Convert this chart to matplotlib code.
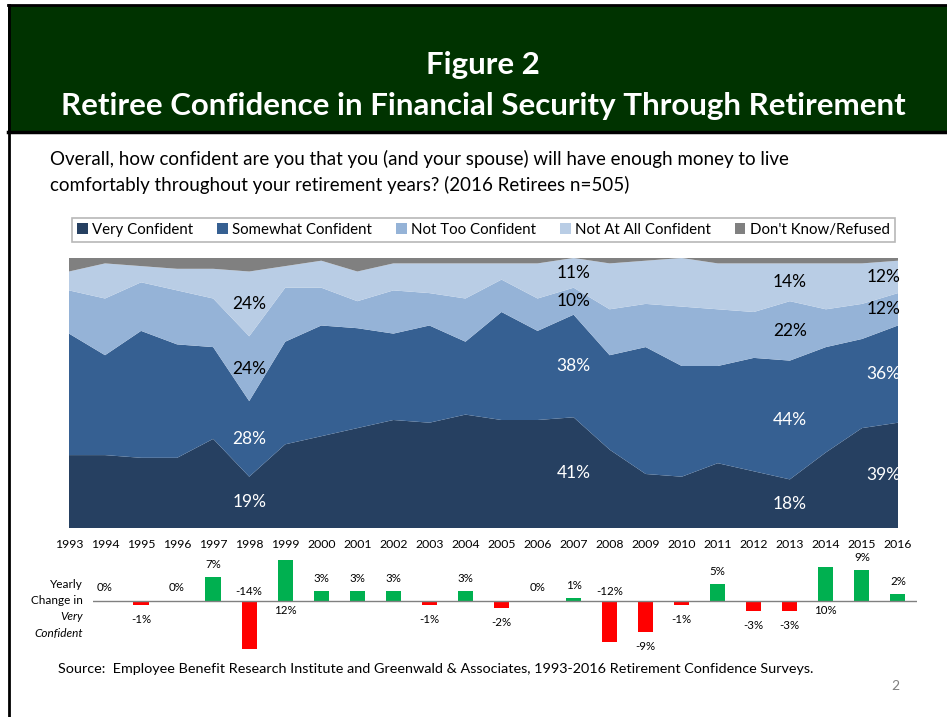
import matplotlib
matplotlib.use("Agg")
import matplotlib.pyplot as plt
from matplotlib.patches import Rectangle
import numpy as np

plt.rcParams["font.family"] = ["Lato", "DejaVu Sans"]

W, H = 947, 717

# ---- data ----
years = list(range(1993, 2017))
series_names = ["Very Confident", "Somewhat Confident", "Not Too Confident",
                "Not At All Confident", "Don't Know/Refused"]
very = [27, 27, 26, 26, 33, 19, 31, 34, 37, 40, 39, 42, 40, 40, 41, 29, 20, 19, 24, 21, 18, 28, 37, 39]
somewhat = [45, 37, 47, 42, 34, 28, 38, 41, 37, 32, 36, 27, 40, 33, 38, 35, 47, 41, 36, 42, 44, 39, 33, 36]
not_too = [16, 21, 18, 20, 18, 24, 20, 14, 10, 16, 12, 16, 12, 12, 10, 17, 16, 22, 21, 17, 22, 14, 13, 12]
not_at_all = [7, 13, 6, 8, 11, 24, 8, 10, 11, 10, 11, 13, 6, 13, 11, 17, 16, 18, 17, 18, 14, 17, 15, 12]
dont_know = [5, 2, 3, 4, 4, 5, 3, 1, 5, 2, 2, 2, 2, 2, 0, 2, 1, 0, 2, 2, 2, 2, 2, 1]

change_years = list(range(1994, 2017))
change = [0, -1, 0, 7, -14, 12, 3, 3, 3, -1, 3, -2, 0, 1, -12, -9, -1, 5, -3, -3, 10, 9, 2]

labelled_years = [1998, 2007, 2013, 2016]

colors = ["#264061", "#366092", "#95B3D7", "#B9CDE5", "#808080"]
label_colors = ["white", "white", "black", "black"]


def fx(px):
    return px / W


def fy(py):
    return 1 - py / H


fig = plt.figure(figsize=(W / 100, H / 100), dpi=100)

# header band and page frame
fig.patches.append(Rectangle((fx(8), fy(132)), fx(W - 8), (132 - 5) / H,
                             transform=fig.transFigure, facecolor="#003300",
                             edgecolor="none", zorder=0))
fig.add_artist(plt.Line2D([fx(8), 1], [fy(5), fy(5)], color="black", lw=2))
fig.add_artist(plt.Line2D([fx(8), 1], [fy(132), fy(132)], color="black", lw=2.5))
fig.add_artist(plt.Line2D([fx(9), fx(9)], [fy(5), 0], color="black", lw=2))

fig.text(fx(483), fy(65), "Figure 2", color="white", fontsize=22.5,
         fontweight="bold", ha="center", va="center")
fig.text(fx(483), fy(106), "Retiree Confidence in Financial Security Through Retirement",
         color="white", fontsize=22.5, fontweight="bold", ha="center", va="center")

fig.text(fx(50), fy(159), "Overall, how confident are you that you (and your spouse) will have enough money to live",
         fontsize=13.5, ha="left", va="center", color="black")
fig.text(fx(50), fy(185), "comfortably throughout your retirement years? (2016 Retirees n=505)",
         fontsize=13.5, ha="left", va="center", color="black")

# ---- stacked area chart ----
ax = fig.add_axes([fx(69), fy(528), (898 - 69) / W, (528 - 258) / H])
stack = [very, somewhat, not_too, not_at_all, dont_know]
polys = ax.stackplot(years, *stack, colors=colors, labels=series_names, linewidth=0)
ax.set_xlim(1993, 2016)
ax.set_ylim(0, 100)
ax.set_yticks([])
ax.set_xticks(years)
ax.set_xticklabels([str(y) for y in years], fontsize=8.8)
ax.tick_params(axis="x", length=0, pad=8)
for s in ax.spines.values():
    s.set_visible(False)

cum = np.cumsum(np.array(stack[:4]), axis=0)
for yr in labelled_years:
    i = years.index(yr)
    xpos = yr if yr < 2016 else yr - 0.4
    for k in range(4):
        lo = cum[k - 1][i] if k > 0 else 0
        mid = (lo + cum[k][i]) / 2
        ax.text(xpos, mid, f"{stack[k][i]}%", ha="center", va="center",
                fontsize=12.5, color=label_colors[k])

leg = fig.legend(handles=polys, labels=series_names, ncol=5,
                 loc="lower left", bbox_to_anchor=(fx(72), fy(242), (895 - 72) / W, 25 / H),
                 mode="expand", borderaxespad=0, fontsize=10.8, frameon=True, fancybox=False,
                 edgecolor="#A6A6A6", handlelength=0.7, handleheight=0.7,
                 handletextpad=0.3, borderpad=0.35, columnspacing=1.0)
leg.get_frame().set_linewidth(1.2)

# ---- yearly change bar chart ----
bx = fig.add_axes([fx(93), fy(655.6), (917 - 93) / W, 109 / H])
bar_colors = ["#00B050" if v > 0 else "#FF0000" for v in change]
bx.bar(change_years, change, width=0.42, color=bar_colors)
bx.axhline(0, color="#808080", lw=1)
bx.set_xlim(1993.67, 2016.53)
bx.set_ylim(-16, 16)
bx.axis("off")
for yr, v in zip(change_years, change):
    if v == 0:
        off = 9.5
    elif abs(v) >= 10:
        off = -7 if v > 0 else 7
    elif v > 0:
        off = 9
    else:
        off = -10.5
    bx.annotate(f"{v}%", xy=(yr, v if abs(v) < 10 else 0), xytext=(0, off),
                textcoords="offset points", ha="center", va="center", fontsize=8.3)

for txt, py, style in [("Yearly", 584, "normal"), ("Change in", 601, "normal"),
                       ("Very", 617, "italic"), ("Confident", 633, "italic")]:
    fig.text(fx(83), fy(py), txt, ha="right", va="center", fontsize=8.5, style=style)

fig.text(fx(58), fy(669), "Source:  Employee Benefit Research Institute and Greenwald & Associates, 1993-2016 Retirement Confidence Surveys.",
         fontsize=10.4, ha="left", va="center")
fig.text(fx(895), fy(686), "2", fontsize=10, ha="center", va="center", color="#808080")

fig.savefig("out.png", dpi=100)
